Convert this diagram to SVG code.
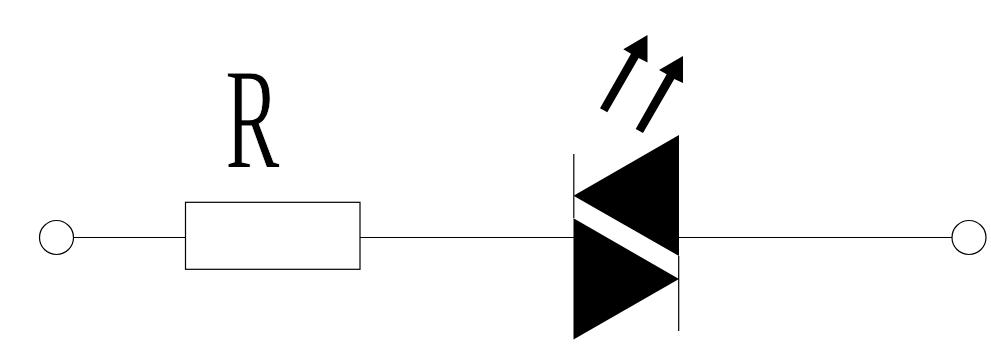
<svg xmlns="http://www.w3.org/2000/svg" width="991" height="350" viewBox="0 0 991 350">
<style>
.w{fill:none;stroke:#000;stroke-width:1.2}
.s{fill:#000;stroke:none}
.t{font-family:"Liberation Serif",serif;font-size:144px;fill:#000;stroke:#fff;stroke-width:1.2}
</style>
<rect width="991" height="350" fill="#fff"/>
<g id="connectors">
<line class="w" x1="73.5" y1="237.5" x2="185.5" y2="237.5"/>
<line class="w" x1="360" y1="237.5" x2="574" y2="237.5"/>
<line class="w" x1="679" y1="237.5" x2="952" y2="237.5"/>
</g>
<g id="terminal-left"><circle class="w" cx="56.5" cy="237.5" r="17"/></g>
<g id="terminal-right"><circle class="w" cx="969" cy="237.5" r="17"/></g>
<g id="resistor">
<rect class="w" x="185.5" y="202.3" width="174.5" height="67"/>
<text class="t" transform="translate(225.3 167.4) scale(0.565 1)">R</text>
</g>
<g id="led">
<line class="w" x1="573.8" y1="154" x2="573.8" y2="218"/>
<line class="w" x1="678.7" y1="256" x2="678.7" y2="331"/>
<polygon class="s" points="573.5,195.7 679,135 679,256"/>
<polygon class="s" points="573.5,218.3 679,279 573.5,339.5"/>
<polygon class="s" points="647.5,35 623.3,49.3 631,53.8 600,108.3 607.3,112.3 638.6,58 647.5,62.5"/>
<polygon class="s" points="683,56 659,70 666.7,74.3 635.7,129 643,133 674.3,79 683,83"/>
</g>
</svg>
